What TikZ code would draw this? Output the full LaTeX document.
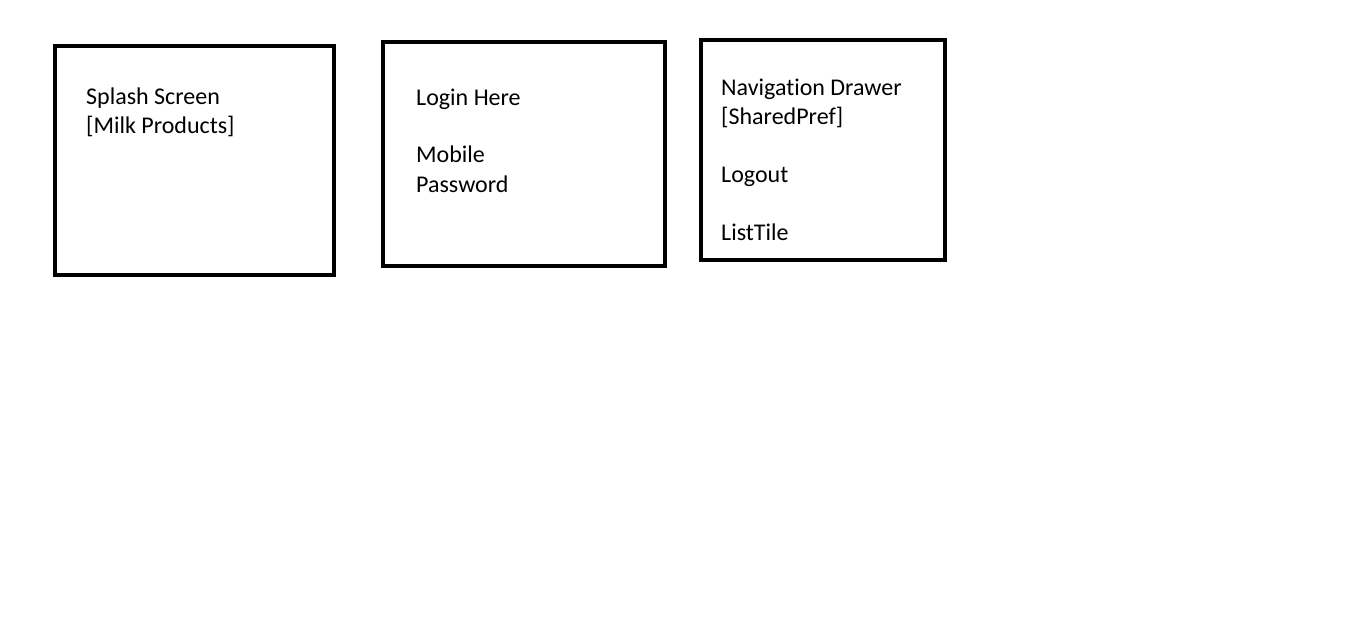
\documentclass[tikz,border=0pt]{standalone}
\usepackage{fontspec}
\setmainfont[Ligatures=CommonOff]{Carlito}
\begin{document}
\begin{tikzpicture}[x=1pt,y=-1pt,
    screen/.style={draw,line width=4pt,outer sep=0pt,inner sep=0pt,anchor=north west},
    screentext/.style={anchor=base west,inner sep=0pt,align=left,
      font=\fontsize{24pt}{29pt}\selectfont}]
   \useasboundingbox (0,0) rectangle (1360,623);
   % Screens
   \node[screen,minimum width=279pt,minimum height=229pt] (splash) at (55,46) {};
   \node[screen,minimum width=282pt,minimum height=224pt] (login)  at (383,42) {};
   \node[screen,minimum width=244pt,minimum height=220pt] (drawer) at (701,40) {};
   % Texts (base = last line)
   \node[screentext] (splashtext) at ([shift={(31,88)}]splash.north west)
     {Splash Screen\\{[Milk Products]}};
   \node[screentext] (logintext)  at ([shift={(33,150)}]login.north west)
     {Login Here\\[29pt]Mobile\\Password};
   \node[screentext] (drawertext) at ([shift={(20,200)}]drawer.north west)
     {Navigation Drawer\\{[SharedPref]}\\[29pt]Logout\\[29pt]ListTile};
\end{tikzpicture}
\end{document}
